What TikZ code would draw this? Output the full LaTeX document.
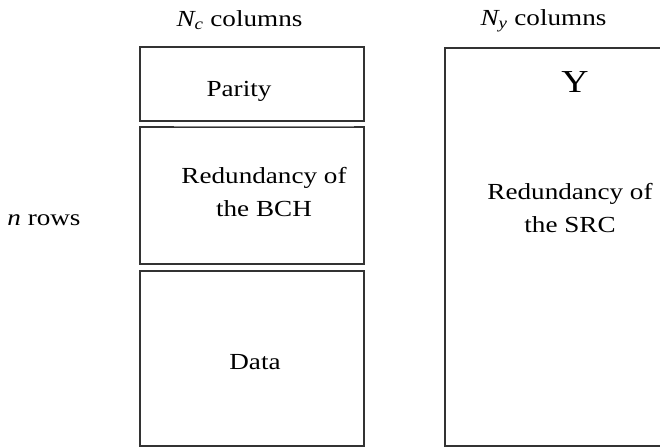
\documentclass[tikz,border=0pt]{standalone}
\usepackage{fontspec}
\setmainfont{Liberation Serif}[FakeStretch=1.18]
\usepackage{tikz}
\usetikzlibrary{calc}

\begin{document}
\begin{tikzpicture}[x=1pt,y=-1pt,
  bloc/.style={draw=black!80,line width=1.8pt,minimum width=224pt,inner sep=0pt},
  txt/.style={font=\fontsize{23}{33}\selectfont,align=center,inner sep=0pt}]
\useasboundingbox (0,0) rectangle (660,447);
			% Blocs de gauche
\node [bloc,minimum height=74pt] (parity) at (252,84) {};
\node [bloc,minimum height=137pt] (bch) at (252,195.5) {};
\node [bloc,minimum height=175pt] (data) at (252,358.5) {};
\draw [white,line width=1.8pt] ($(bch.north west)+(35,0)$) -- ($(bch.north east)+(-11,0)$);
\draw [black!45,line width=0.6pt] ($(bch.north west)+(35,0)$) -- ($(bch.north east)+(-11,0)$);
			% Bloc de droite
\node [bloc,minimum width=216pt,minimum height=398pt] (ybloc) at (553,247) {};
			% Textes
\node [txt,anchor=base] (nc) at (239.5,26) {\textit{N\textsubscript{c}} columns};
\node [txt,anchor=base] (ny) at (543.5,25) {\textit{N\textsubscript{y}} columns};
\node [txt,anchor=base] (nrows) at (44,225) {\textit{n} rows};
\node [txt,anchor=base] (tparity) at (239,96) {Parity};
\node [txt] (tbch) at (264,192) {Redundancy of\\the BCH};
\node [txt,anchor=base] (tdata) at (255,369) {Data};
\node [txt,anchor=base,font=\fontsize{32}{36}\selectfont] (ty) at (575,92) {Y};
\node [txt] (tsrc) at (570,208) {Redundancy of\\the SRC};
			\end{tikzpicture}
\end{document}
